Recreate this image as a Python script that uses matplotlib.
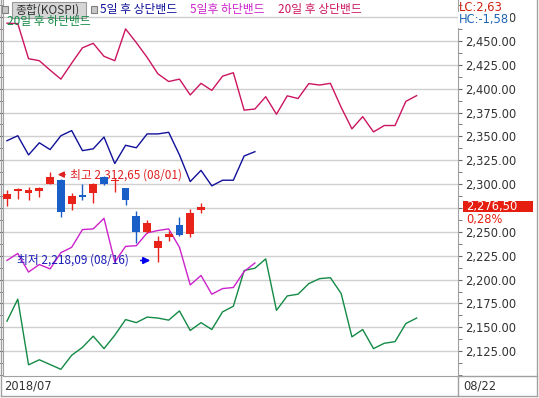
import matplotlib
matplotlib.use("Agg")
import matplotlib.pyplot as plt
from matplotlib.patches import Rectangle
from matplotlib.lines import Line2D
from matplotlib.ticker import FixedLocator, MultipleLocator, FuncFormatter
import matplotlib.transforms as mtransforms

plt.rcParams['font.family'] = ['Noto Sans CJK KR', 'DejaVu Sans']

# KOSPI daily candles, 2018-07-26 .. 2018-08-22
dates = ['07/26', '07/27', '07/30', '07/31', '08/01', '08/02', '08/03', '08/06',
         '08/07', '08/08', '08/09', '08/10', '08/13', '08/14', '08/16', '08/17',
         '08/20', '08/21', '08/22']
opens = [2284.0, 2292.7, 2290.9, 2292.3, 2300.6, 2304.7, 2279.2, 2288.5, 2290.2, 2307.8,
         2303.4, 2295.8, 2267.0, 2249.6, 2232.7, 2245.0, 2257.3, 2247.9, 2273.0]
highs = [2293.8, 2295.8, 2297.2, 2297.2, 2312.65, 2305.3, 2290.2, 2300.0, 2301.2, 2308.5,
         2306.4, 2296.4, 2272.2, 2262.8, 2246.1, 2251.4, 2265.2, 2274.0, 2279.8]
lows = [2276.7, 2284.4, 2283.3, 2286.0, 2300.0, 2265.2, 2272.9, 2283.3, 2280.2, 2299.0,
        2291.3, 2278.1, 2238.4, 2249.0, 2218.09, 2240.1, 2246.1, 2244.3, 2269.8]
closes = [2289.6, 2294.8, 2293.8, 2296.1, 2307.8, 2270.4, 2287.8, 2286.5, 2300.6, 2300.6,
          2304.7, 2283.3, 2249.6, 2259.4, 2240.8, 2247.5, 2247.2, 2270.14, 2276.50]

# forecast bands (one point per trading day, extending past the last candle)
band5_upper = [2345.5, 2350.7, 2330.6, 2343.3, 2336.2, 2350.7, 2356.1, 2335.1, 2337.0, 2349.3,
               2321.6, 2340.7, 2338.1, 2352.6, 2352.6, 2354.3, 2330.6, 2302.7, 2314.4, 2298.2,
               2304.1, 2304.1, 2329.5, 2334.0]
band5_lower = [2220.1, 2227.4, 2207.9, 2215.8, 2211.2, 2228.2, 2233.8, 2252.4, 2253.1, 2264.2,
               2218.4, 2234.8, 2235.5, 2248.9, 2251.4, 2253.1, 2233.8, 2194.4, 2204.3, 2184.7,
               2190.6, 2191.7, 2208.5, 2217.4]
band20_upper = [2468.6, 2468.2, 2431.4, 2429.3, 2419.4, 2410.0, 2426.7, 2442.8, 2447.5, 2433.9,
                2429.3, 2462.6, 2448.2, 2432.8, 2415.6, 2407.5, 2410.0, 2393.4, 2405.6, 2398.2,
                2413.1, 2416.7, 2377.5, 2378.7, 2391.6, 2373.2, 2392.5, 2389.7, 2405.3, 2403.8,
                2405.6, 2380.5, 2357.9, 2370.7, 2354.7, 2361.4, 2361.4, 2386.7, 2392.7]
band20_lower = [2156.5, 2179.5, 2110.7, 2116.0, 2111.0, 2106.0, 2120.7, 2129.0, 2140.7, 2127.7,
                2141.7, 2158.1, 2154.9, 2160.7, 2159.7, 2157.5, 2167.2, 2146.7, 2154.9, 2147.7,
                2166.2, 2172.1, 2209.5, 2211.9, 2221.7, 2167.8, 2182.9, 2184.7, 2195.8, 2201.0,
                2202.0, 2185.4, 2140.0, 2147.7, 2127.7, 2133.3, 2135.0, 2153.9, 2159.7]

price_ticks = list(range(2125, 2476, 25))
last_close = closes[-1]
last_label = '2,276,50'
change_pct = '0,28%'

UP, DOWN = '#e8231a', '#1a5fc8'
C5U, C5L, C20U, C20L = '#10109a', '#cc22cc', '#cc1560', '#138a45'

W, H = 539, 398
fig = plt.figure(figsize=(W / 100, H / 100), dpi=100)


def px(x, y):
    return x / W, 1 - y / H


ax = fig.add_axes([3 / W, 1 - 376 / H, 455 / W, 376 / H])
ax.set_xlim(-0.37, 41.84)
ax.set_ylim(2099, 2492.9)


def price_fmt(v, p):
    # the price tag sits on top of the 2,275 label in the original
    if abs(v - 2275) < 1:
        return ''
    return f"{v:,.2f}"


# grid + axes
ax.yaxis.set_major_locator(FixedLocator(price_ticks))
ax.yaxis.set_minor_locator(MultipleLocator(12.5))
ax.yaxis.set_major_formatter(FuncFormatter(price_fmt))
ax.grid(axis='y', which='major', color='#cfcfcf', lw=1)
ax.set_axisbelow(True)
ax.tick_params(axis='y', which='both', left=True, right=True, labelleft=False,
               labelright=True, direction='out', length=3, color='#666',
               labelsize=8.3, labelcolor='#333', pad=2)
ax.tick_params(axis='x', bottom=False, labelbottom=False)
for lab in ax.get_yticklabels():
    lab.set_fontfamily('DejaVu Sans')
ax.spines['top'].set_visible(False)
for s in ('left', 'right', 'bottom'):
    ax.spines[s].set_color('#a0a0a0')

# bands
ax.plot(range(len(band20_upper)), band20_upper, color=C20U, lw=1)
ax.plot(range(len(band20_lower)), band20_lower, color=C20L, lw=1)
ax.plot(range(len(band5_upper)), band5_upper, color=C5U, lw=1)
ax.plot(range(len(band5_lower)), band5_lower, color=C5L, lw=1)

# candles
for i in range(len(dates)):
    col = UP if closes[i] >= opens[i] else DOWN
    ax.vlines(i, lows[i], highs[i], color=col, lw=1, zorder=3)
    lo, hi = min(opens[i], closes[i]), max(opens[i], closes[i])
    ax.bar(i, max(hi - lo, 0.9), bottom=lo, width=0.72, color=col, zorder=4)

# high / low annotations
hi_i = highs.index(max(highs))
lo_i = lows.index(min(lows))
ax.annotate('', xy=(hi_i + 0.45, 2310), xytext=(hi_i + 1.66, 2310),
            arrowprops=dict(arrowstyle='-|>', color='#e02020', lw=1, mutation_scale=9))
ax.text(hi_i + 1.84, 2310, f"최고 2,312,65 ({dates[hi_i]})", color='#e02020',
        fontsize=8.5, va='center', ha='left')
ax.text(0.93, 2220, f"최저 2,218,09 ({dates[lo_i]})", color='#1c1cb8',
        fontsize=8.5, va='center', ha='left')
ax.annotate('', xy=(lo_i - 0.45, 2220), xytext=(lo_i - 1.85, 2220),
            arrowprops=dict(arrowstyle='-|>', color='#0000ee', lw=1.2, mutation_scale=10))

# last price tag on the right scale
blend = mtransforms.blended_transform_factory(fig.transFigure, ax.transData)
ax.add_patch(Rectangle((463 / W, last_close - 6), 70 / W, 12, transform=blend,
                       facecolor='#e61e10', edgecolor='none', clip_on=False, zorder=6))
ax.text(466 / W, last_close, last_label, transform=blend, color='white', fontsize=8.3,
        va='center', ha='left', family='DejaVu Sans', zorder=7, clip_on=False)
ax.text(466 / W, last_close - 13.5, change_pct, transform=blend, color='#e61e10',
        fontsize=8.3, va='center', ha='left', family='DejaVu Sans', clip_on=False)

# LC / HC labels (cover most of the 2,475 label like the original)
fig.text(*px(459, 7), "LC:2,63", color='#d02010', fontsize=8.3, va='center',
         family='DejaVu Sans')
fig.text(*px(459, 20), "HC:-1,58", color='#1e64b4', fontsize=8.3, va='center',
         family='DejaVu Sans', zorder=10,
         bbox=dict(boxstyle='square,pad=0.1', fc='white', ec='none'))

# legend row
fig.patches.append(Rectangle(px(2, 13), 6 / W, 7 / H, transform=fig.transFigure,
                             facecolor='#c8c8c8', edgecolor='#808080', lw=0.8))
fig.patches.append(Rectangle(px(12, 18), 74 / W, 16 / H, transform=fig.transFigure,
                             facecolor='#d6d6d6', edgecolor='#9a9a9a', lw=0.8))
fig.text(*px(15, 10), "종합(KOSPI)", color='#333333', fontsize=8.5, va='center')
fig.patches.append(Rectangle(px(91, 13), 6 / W, 7 / H, transform=fig.transFigure,
                             facecolor='#c8c8c8', edgecolor='#808080', lw=0.8))
legend_items = [("5일 후 상단밴드", C5U, 100, 10), ("5일후 하단밴드", C5L, 190, 10),
                ("20일 후 상단밴드", C20U, 278, 10), ("20일 후 하단밴드", C20L, 7, 22)]
for label, col, x0, y0 in legend_items:
    fig.text(*px(x0, y0), label, color=col, fontsize=8.5, va='center')

# date strip + frame
fig.add_artist(Line2D([1 / W, 537 / W], [1 - 396 / H] * 2, color='#a0a0a0', lw=1))
fig.add_artist(Line2D([458 / W, 458 / W], [1 - 376 / H, 1 - 396 / H], color='#a0a0a0', lw=1))
fig.add_artist(Line2D([458 / W, 537 / W], [1 - 376 / H] * 2, color='#a0a0a0', lw=1))
fig.add_artist(Line2D([537 / W, 537 / W], [1, 1 - 396 / H], color='#a0a0a0', lw=1))
fig.add_artist(Line2D([1 / W, 1 / W], [1, 1 - 396 / H], color='#a0a0a0', lw=1))
fig.text(*px(4, 386), "2018/07", color='#333333', fontsize=8.3, va='center',
         family='DejaVu Sans')
fig.text(*px(463, 386), dates[-1], color='#333333', fontsize=8.3, va='center',
         family='DejaVu Sans')

fig.savefig('out.png', dpi=100)
